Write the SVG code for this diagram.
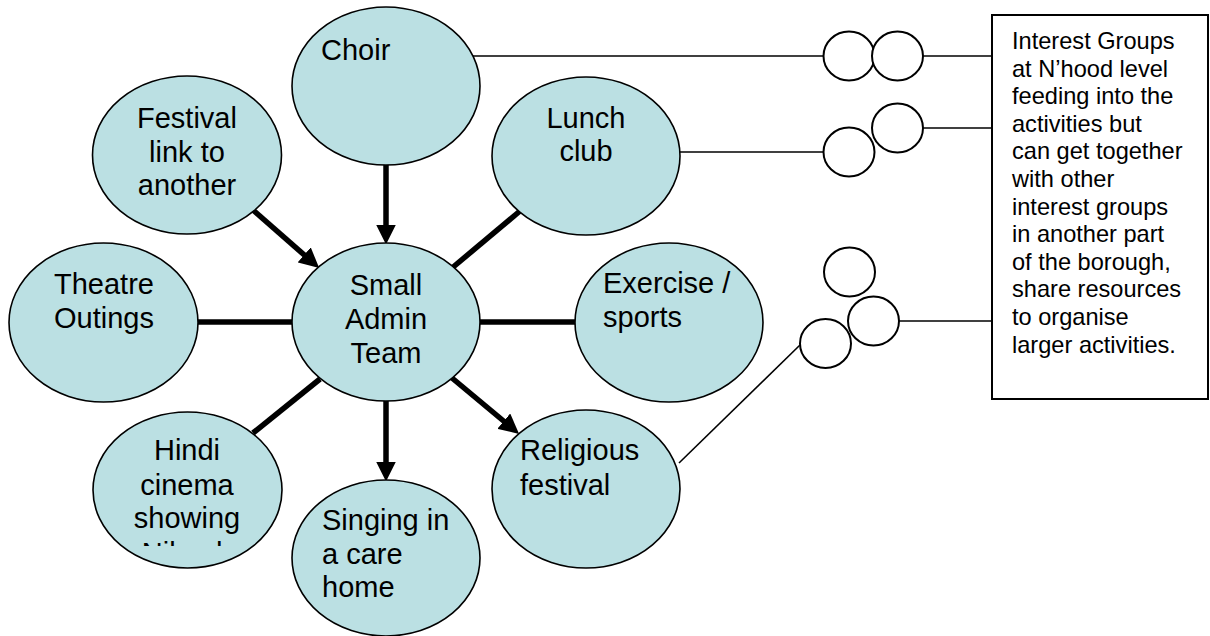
<svg xmlns="http://www.w3.org/2000/svg" width="1210" height="636" viewBox="0 0 1210 636">
<style>
.node ellipse{fill:#bbe0e3;stroke:#000;stroke-width:1.6}
.lbl{font-family:"Liberation Sans",Arial,sans-serif;font-size:29px;fill:#000}
.c{text-anchor:middle}
.thick{stroke:#000;stroke-width:5.5;fill:none}
.thin{stroke:#000;stroke-width:1.6;fill:none}
.sm{fill:#fff;stroke:#000;stroke-width:2}
.box{fill:#fff;stroke:#000;stroke-width:2}
.bt{font-family:"Liberation Sans",Arial,sans-serif;font-size:23.6px;fill:#000}
</style>
<defs>
<marker id="arr" markerUnits="userSpaceOnUse" markerWidth="20" markerHeight="20" refX="4" refY="9" orient="auto" viewBox="0 0 18 18">
<path d="M0,0 L18,9 L0,18 z" fill="#000"/>
</marker>
<clipPath id="clipHindi"><rect x="90" y="530" width="200" height="16"/></clipPath>
</defs>
<g id="connectors">
<line class="thick" x1="386" y1="164" x2="386" y2="229" marker-end="url(#arr)"/>
<line class="thick" x1="253" y1="210" x2="307.5" y2="257.8" marker-end="url(#arr)"/>
<line class="thick" x1="520" y1="211" x2="452" y2="268"/>
<line class="thick" x1="198" y1="322" x2="292" y2="322"/>
<line class="thick" x1="480" y1="322" x2="575" y2="322"/>
<line class="thick" x1="452" y1="378" x2="507.2" y2="424" marker-end="url(#arr)"/>
<line class="thick" x1="386" y1="401" x2="386" y2="466" marker-end="url(#arr)"/>
<line class="thick" x1="320" y1="379" x2="253" y2="433"/>
<line class="thin" x1="464" y1="56" x2="823" y2="56"/>
<line class="thin" x1="919" y1="56" x2="992" y2="56"/>
<line class="thin" x1="680" y1="152" x2="823" y2="152"/>
<line class="thin" x1="919" y1="128" x2="992" y2="128"/>
<line class="thin" x1="679" y1="463" x2="800" y2="345"/>
<line class="thin" x1="895" y1="321" x2="992" y2="321"/>
</g>
<g id="small-circles">
<ellipse class="sm" cx="849" cy="56" rx="25.5" ry="24.5"/>
<ellipse class="sm" cx="897.5" cy="56" rx="25.5" ry="24.5"/>
<ellipse class="sm" cx="849" cy="152" rx="25.5" ry="24.5"/>
<ellipse class="sm" cx="897.5" cy="128" rx="25.5" ry="24.5"/>
<ellipse class="sm" cx="849.5" cy="272" rx="25.5" ry="24.5"/>
<ellipse class="sm" cx="873.5" cy="321" rx="25.5" ry="24.5"/>
<ellipse class="sm" cx="825.5" cy="343.5" rx="25.5" ry="24.5"/>
</g>
<g id="choir" class="node">
<ellipse cx="386" cy="86" rx="94" ry="79"/>
<text class="lbl" x="321" y="60">Choir</text>
</g>
<g id="festival" class="node">
<ellipse cx="187" cy="155" rx="94.5" ry="79"/>
<text class="lbl c" x="187" y="128">Festival</text>
<text class="lbl c" x="187" y="162">link to</text>
<text class="lbl c" x="187" y="195">another</text>
</g>
<g id="theatre" class="node">
<ellipse cx="103.5" cy="322.5" rx="94.5" ry="79.5"/>
<text class="lbl c" x="104" y="294">Theatre</text>
<text class="lbl c" x="104" y="328">Outings</text>
</g>
<g id="admin" class="node">
<ellipse cx="386" cy="322" rx="94" ry="79"/>
<text class="lbl c" x="386" y="295">Small</text>
<text class="lbl c" x="386" y="329">Admin</text>
<text class="lbl c" x="386" y="363">Team</text>
</g>
<g id="lunch" class="node">
<ellipse cx="586" cy="156" rx="94" ry="79"/>
<text class="lbl c" x="586" y="128">Lunch</text>
<text class="lbl c" x="586" y="161">club</text>
</g>
<g id="exercise" class="node">
<ellipse cx="669" cy="322.5" rx="94" ry="79.5"/>
<text class="lbl" x="603" y="293">Exercise /</text>
<text class="lbl" x="603" y="327">sports</text>
</g>
<g id="religious" class="node">
<ellipse cx="586" cy="489" rx="94" ry="79"/>
<text class="lbl" x="520" y="460">Religious</text>
<text class="lbl" x="520" y="495">festival</text>
</g>
<g id="singing" class="node">
<ellipse cx="386" cy="558" rx="94" ry="78"/>
<text class="lbl" x="322" y="530">Singing in</text>
<text class="lbl" x="322" y="564">a care</text>
<text class="lbl" x="322" y="597">home</text>
</g>
<g id="hindi" class="node">
<ellipse cx="187.5" cy="490" rx="94.5" ry="78"/>
<text class="lbl c" x="187" y="460">Hindi</text>
<text class="lbl c" x="187" y="495">cinema</text>
<text class="lbl c" x="187" y="528">showing</text>
<text class="lbl c" x="187" y="563" clip-path="url(#clipHindi)">Nikaah</text>
</g>
<g id="note">
<rect class="box" x="992" y="15" width="216" height="384"/>
<text class="bt">
<tspan x="1012" y="49">Interest Groups</tspan>
<tspan x="1012" y="76.6">at N’hood level</tspan>
<tspan x="1012" y="104.2">feeding into the</tspan>
<tspan x="1012" y="131.8">activities but</tspan>
<tspan x="1012" y="159.4">can get together</tspan>
<tspan x="1012" y="187">with other</tspan>
<tspan x="1012" y="214.6">interest groups</tspan>
<tspan x="1012" y="242.2">in another part</tspan>
<tspan x="1012" y="269.8">of the borough,</tspan>
<tspan x="1012" y="297.4">share resources</tspan>
<tspan x="1012" y="325">to organise</tspan>
<tspan x="1012" y="352.6">larger activities.</tspan>
</text>
</g>
</svg>
